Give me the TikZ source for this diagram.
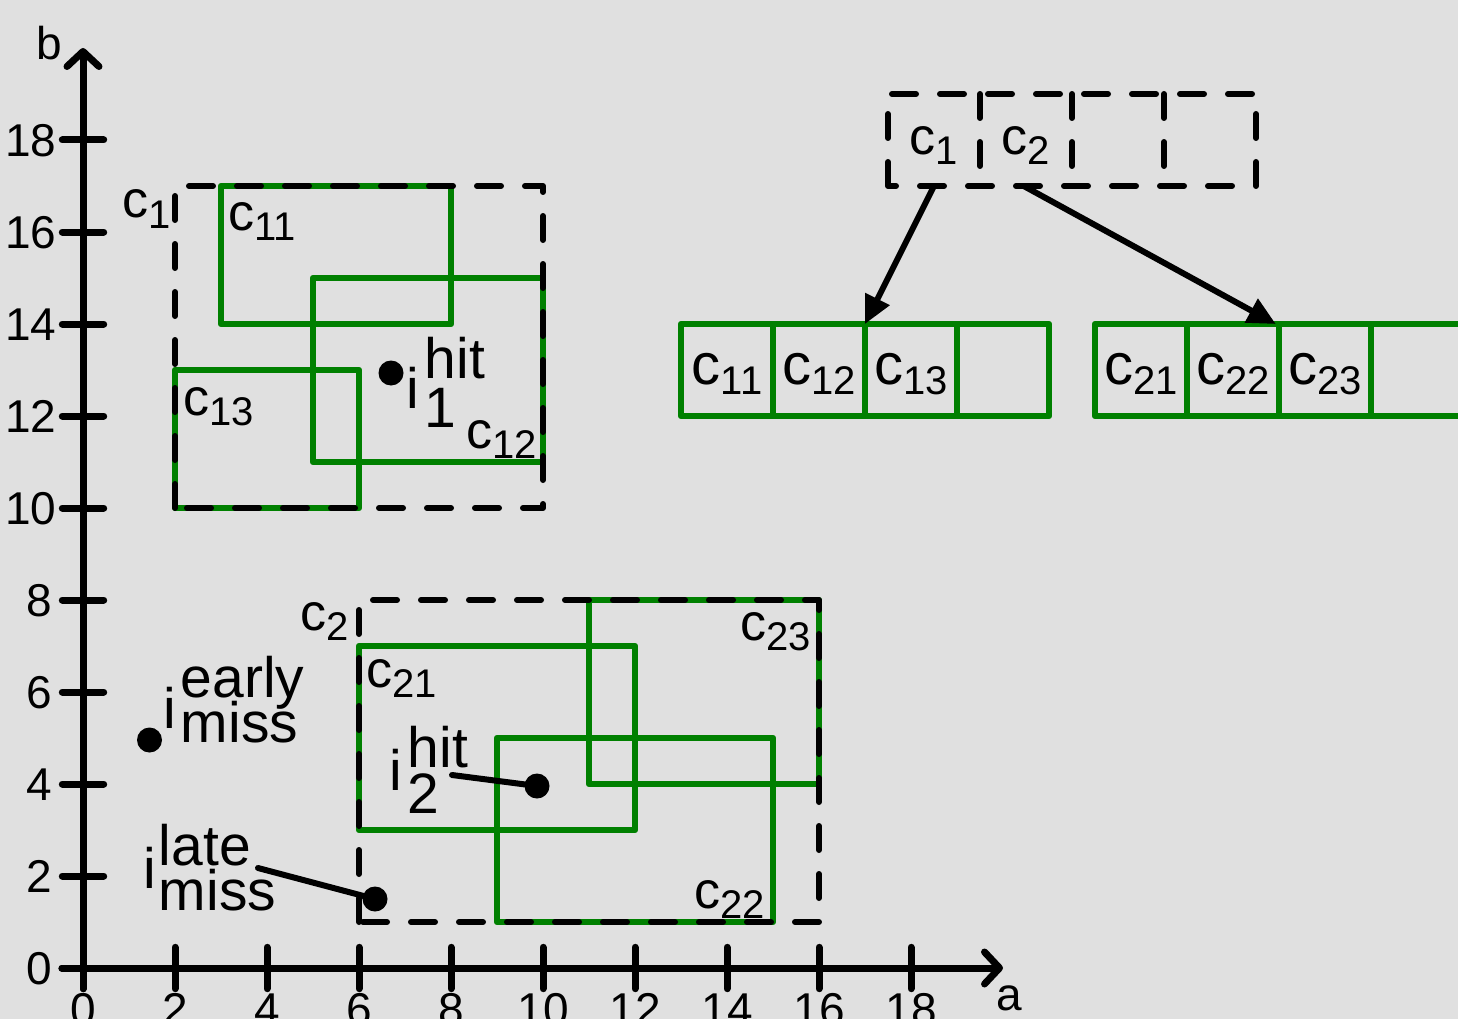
\documentclass[tikz,border=0pt]{standalone}
\usepackage{fontspec}
\setmainfont{Liberation Sans}
\usetikzlibrary{arrows.meta}
\definecolor{bgc}{RGB}{224,224,224}
\definecolor{grn}{RGB}{0,128,0}
\newcommand\csub[1]{\raisebox{-10pt}{\fontsize{40}{44}\selectfont #1}}
\newcommand\ilab[5]{i\kern#5\rlap{\raisebox{#3}{#1}}\raisebox{-#4}{#2}}
\begin{document}
\begin{tikzpicture}[x=1pt,y=-1pt,
  axisline/.style={line width=7pt,line cap=round},
  axtip/.style={-{Straight Barb[length=15pt,width=32pt,round]}},
  gbox/.style={draw=grn,line width=6.5pt,line join=round},
  dsh/.style={draw=black,line width=6pt,dash pattern=on 24pt off 24pt,line cap=round,line join=round},
  conn/.style={line width=6pt,line cap=round},
  arr/.style={line width=6pt,-{Triangle[length=28pt,width=26pt]}},
  ticklab/.style={font=\fontsize{46}{50}\selectfont,inner sep=0pt},
  clab/.style={font=\fontsize{52}{56}\selectfont,inner sep=0pt,anchor=base west},
  alab/.style={font=\fontsize{58}{62}\selectfont,inner sep=0pt,anchor=base},
  tlab/.style={font=\fontsize{52}{56}\selectfont,inner sep=0pt,anchor=base},
  ilabst/.style={font=\fontsize{57}{60}\selectfont,inner sep=0pt,anchor=base west},
  dot/.style={circle,fill=black,inner sep=0pt,minimum size=25pt}]
\fill[bgc] (0,0) rectangle (1458,1019);
\useasboundingbox (0,0) rectangle (1458,1019);
\begin{scope}[shift={(83,968)},x=46pt,y=46pt]
  % axes
  \draw[axisline,axtip] (-0.46,0) -- (20,0);
  \draw[axisline,axtip] (0,-0.45) -- (0,20);
  \foreach \v in {0,2,...,18} \draw[axisline] (\v,-0.45) -- (\v,0.45);
  \foreach \v in {0,2,...,18} \draw[axisline] (-0.45,\v) -- (0.45,\v);
  \foreach \v in {0,2,...,8} \node[ticklab,anchor=base east] (yl\v) at (-0.66,\v-0.36) {\v};
  \foreach \v in {10,12,...,18} \node[ticklab,anchor=base east] (yl\v) at (-0.57,\v-0.36) {\v};
  \foreach \v in {0,2,...,18} \node[ticklab,anchor=base] (xl\v) at (\v,-1.26) {\v};
  % green rectangles
  \draw[gbox] (3,14) rectangle (8,17);
  \draw[gbox] (5,11) rectangle (10,15);
  \draw[gbox] (2,10) rectangle (6,13);
  \draw[gbox] (6,3) rectangle (12,7);
  \draw[gbox] (9,1) rectangle (15,5);
  \draw[gbox] (11,4) rectangle (16,8);
  % dashed rectangles
  \draw[dsh] (2,10) rectangle (10,17);
  \draw[dsh] (6,1) rectangle (16,8);
  % arrays
  \draw[gbox] (13,12) rectangle (21,14);
  \foreach \v in {15,17,19} \draw[gbox] (\v,12) -- (\v,14);
  \draw[gbox] (22,12) rectangle (30,14);
  \foreach \v in {24,26,28} \draw[gbox] (\v,12) -- (\v,14);
  \draw[dsh] (17.5,17) rectangle (25.5,19);
  \foreach \v in {19.5,21.5,23.5} \draw[dsh] (\v,19) -- (\v,17);
  % array labels
  \node[tlab] (t1) at (18.5,17.674) {c\csub{1}};
  \node[tlab] (t2) at (20.5,17.674) {c\csub{2}};
  \node[alab] (a11) at (14,12.674) {c\csub{11}};
  \node[alab] (a12) at (16,12.674) {c\csub{12}};
  \node[alab] (a13) at (18,12.674) {c\csub{13}};
  \node[alab] (a21) at (23,12.674) {c\csub{21}};
  \node[alab] (a22) at (25,12.674) {c\csub{22}};
  \node[alab] (a23) at (27,12.674) {c\csub{23}};
  % arrows
  \coordinate (s1) at (18.5,17);
  \coordinate (e1) at (17,14);
  \coordinate (s2) at (20.45,17);
  \coordinate (e2) at (25.93,14);
  \draw[arr] (s1) -- (e1);
  \draw[arr] (s2) -- (e2);
\end{scope}
% axis labels
\node[ticklab,anchor=base west] (lb) at (36,60) {b};
\node[ticklab,anchor=base west] (la) at (996,1010) {a};
% rectangle labels
\node[clab] (lc1) at (122,218) {c\csub{1}};
\node[clab] (lc11) at (228,230) {c\csub{11}};
\node[clab] (lc13) at (183,415) {c\csub{13}};
\node[clab] (lc12) at (466,448) {c\csub{12}};
\node[clab] (lc2) at (300,630) {c\csub{2}};
\node[clab] (lc21) at (366,687) {c\csub{21}};
\node[clab] (lc23) at (740,640) {c\csub{23}};
\node[clab] (lc22) at (694,908) {c\csub{22}};
% points
\node[dot] (d1) at (391,373) {};
\node[dot] (d2) at (537,786) {};
\node[dot] (de) at (149.5,740) {};
\node[dot] (dl) at (375,899) {};
\node[ilabst] (li1) at (406,408) {\ilab{hit}{1}{30pt}{19pt}{6pt}};
\node[ilabst] (lie) at (163,728) {\ilab{early}{miss}{31pt}{14pt}{5pt}};
\node[ilabst] (lil) at (143,888) {\ilab{late}{miss}{23pt}{22pt}{3pt}};
\node[ilabst] (li2) at (389,790) {\ilab{hit}{2}{23pt}{23pt}{6pt}};
\coordinate (c2s) at (452,775);
\coordinate (cls) at (258,868);
\draw[conn] (c2s) -- (d2.center);
\draw[conn] (cls) -- (dl.center);
\end{tikzpicture}
\end{document}
